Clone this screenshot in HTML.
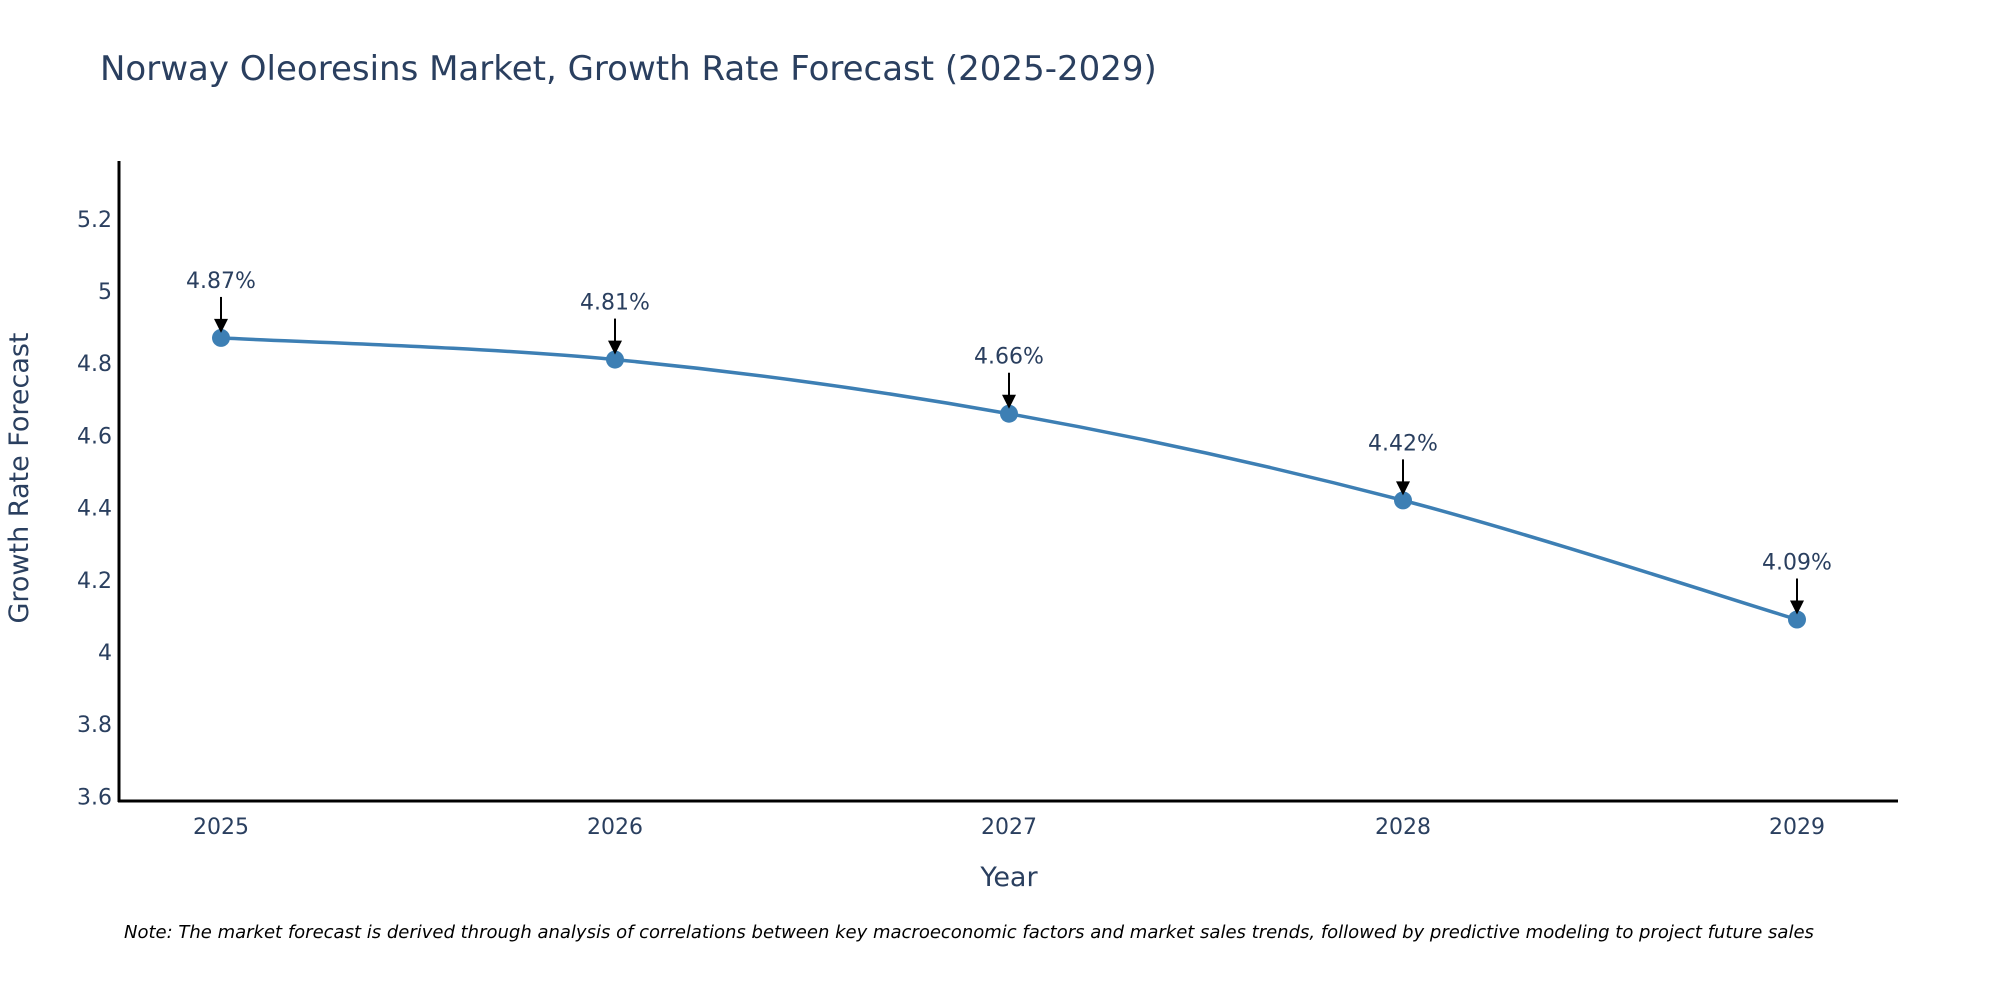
<!DOCTYPE html>
<html><head><meta charset="utf-8"><style>
html,body{margin:0;padding:0;background:#fff;}
svg text{font-family:"DejaVu Sans","Liberation Sans",sans-serif;}
</style></head><body>
<svg width="2000" height="1000" xmlns="http://www.w3.org/2000/svg">
<text x="100" y="80" font-size="34" fill="#2a3f5f">Norway Oleoresins Market, Growth Rate Forecast (2025-2029)</text>
<g id="yticks"></g>
<g id="xticks"></g>
<line x1="119" y1="161" x2="119" y2="802" stroke="#000" stroke-width="3"/>
<line x1="118" y1="801" x2="1898" y2="801" stroke="#000" stroke-width="3"/>
<path id="line" fill="none" stroke="#3d7fb4" stroke-width="3.5"/>
<g id="points"></g>
<g id="annos"></g>
<text x="28" y="478" font-size="27" fill="#2a3f5f" text-anchor="middle" transform="rotate(-90 28 478)">Growth Rate Forecast</text>
<text x="1009" y="886" font-size="27" fill="#2a3f5f" text-anchor="middle">Year</text>
<text x="124" y="938" font-size="18" font-style="italic" fill="#000">Note: The market forecast is derived through analysis of correlations between key macroeconomic factors and market sales trends, followed by predictive modeling to project future sales</text>
</svg>
<script>
const years = [2025, 2026, 2027, 2028, 2029];
const values = [4.87, 4.81, 4.66, 4.42, 4.09];
const yTicks = [3.6, 3.8, 4, 4.2, 4.4, 4.6, 4.8, 5, 5.2];
const NS = "http://www.w3.org/2000/svg";
function xs(v){ return 221 + (v - 2025) * 394; }
function ys(v){ return 652 - (v - 4) * 361; }
function mk(tag, attrs, parent){ const e=document.createElementNS(NS,tag); for(const k in attrs) e.setAttribute(k,attrs[k]); parent.appendChild(e); return e; }
const yt=document.getElementById('yticks');
yTicks.forEach(t=>{
  const e=mk('text',{x:112,y:ys(t)+8,'font-size':22,fill:'#2a3f5f','text-anchor':'end'},yt);
  
  
  e.textContent=String(t);
});
const xt=document.getElementById('xticks');
years.forEach(y=>{
  const e=mk('text',{x:xs(y),y:834,'font-size':22,fill:'#2a3f5f','text-anchor':'middle'},xt);
  
  
  e.textContent=String(y);
});
const P=years.map((y,i)=>[xs(y),ys(values[i])]);
let d='M'+P[0][0]+','+P[0][1];
for(let i=0;i<P.length-1;i++){
  const p0=P[i-1]||P[i], p1=P[i], p2=P[i+1], p3=P[i+2]||P[i+1];
  const c1=[p1[0]+(p2[0]-p0[0])/6, p1[1]+(p2[1]-p0[1])/6];
  const c2=[p2[0]-(p3[0]-p1[0])/6, p2[1]-(p3[1]-p1[1])/6];
  d+=' C'+c1+' '+c2+' '+p2;
}
document.getElementById('line').setAttribute('d',d);
const pts=document.getElementById('points'), an=document.getElementById('annos');
P.forEach((p,i)=>{
  const c=mk('circle',{cx:p[0],cy:p[1],r:9,fill:'#3d7fb4'},pts);
  
  
  const l=mk('line',{x1:p[0],y1:p[1]-41,x2:p[0],y2:p[1]-18,stroke:'#000','stroke-width':2},an);
  
  
  const h=mk('polygon',{points:(p[0]-7)+','+(p[1]-19)+' '+(p[0]+7)+','+(p[1]-19)+' '+p[0]+','+(p[1]-5),fill:'#000'},an);
  
  
  const t=mk('text',{x:p[0],y:p[1]-50,'font-size':22,fill:'#2a3f5f','text-anchor':'middle'},an);
  
  
  t.textContent=values[i].toFixed(2)+'%';
});
</script>
</body></html>
